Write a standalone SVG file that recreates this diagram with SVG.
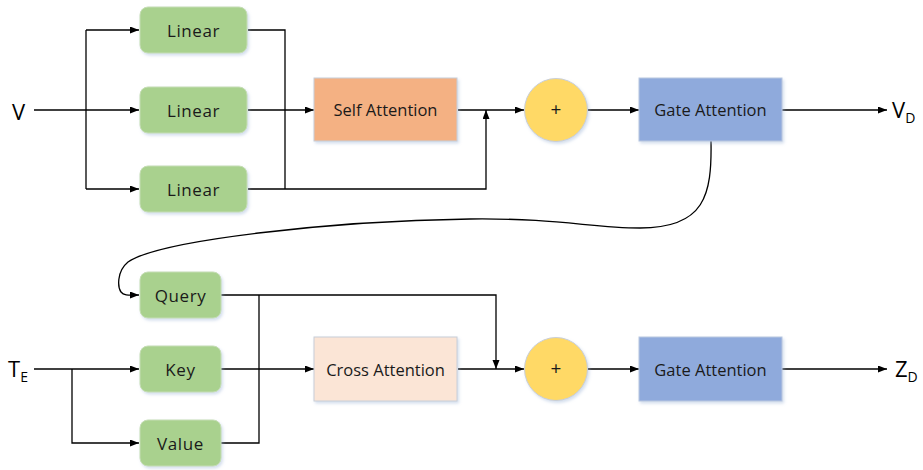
<svg xmlns="http://www.w3.org/2000/svg" width="923" height="470" viewBox="0 0 923 470">
  <defs>
    <marker id="arrow" markerUnits="userSpaceOnUse" markerWidth="10" markerHeight="8" refX="9" refY="3.5" orient="auto">
      <path d="M0,0 L9,3.5 L0,7 z" fill="#000"/>
    </marker>
    <filter id="glow" x="-10%" y="-10%" width="125%" height="130%">
      <feDropShadow dx="1.5" dy="2" stdDeviation="1.8" flood-color="#9FB6D8" flood-opacity="0.45"/>
    </filter>
  </defs>
  <style>
    .lin { fill: #A9D18E; stroke: #C5DDB4; stroke-width: 1; filter: url(#glow); }
    .self { fill: #F4B183; stroke: #C8CED8; stroke-width: 1; filter: url(#glow); }
    .cross { fill: #FBE5D6; stroke: #C8CED8; stroke-width: 1; filter: url(#glow); }
    .gate { fill: #8FAADC; stroke: #B9C7E0; stroke-width: 1; filter: url(#glow); }
    .sum { fill: #FFD966; stroke: #C8CED8; stroke-width: 1; filter: url(#glow); }
    .lbl { font-family: "Open Sans", "Liberation Sans", sans-serif; font-size: 16.5px; fill: #1a1a1a; text-anchor: middle; dominant-baseline: central; }
    .box { font-size: 17px; letter-spacing: 0.6px; }
    .plus { font-size: 19px; }
    .io { font-family: "Open Sans", "Liberation Sans", sans-serif; font-size: 22px; fill: #000; }
    .sub { font-size: 14px; }
    .wire { fill: none; stroke: #000; stroke-width: 1.3; }
    .arr { marker-end: url(#arrow); }
  </style>

  <g id="connectors">
    <path class="wire arr" d="M34,110 H139"/>
    <path class="wire" d="M86,30 V189"/>
    <path class="wire arr" d="M86,30 H139"/>
    <path class="wire arr" d="M86,189 H139"/>
    <path class="wire" d="M248,30 H285 V189"/>
    <path class="wire arr" d="M248,189 H486 V110"/>
    <path class="wire arr" d="M248,110 H314"/>
    <path class="wire arr" d="M458,110 H524"/>
    <path class="wire arr" d="M587,110 H639"/>
    <path class="wire arr" d="M782,110 H887"/>
    <path class="wire arr" d="M711,141 C712,195 705,228 640,228 C590,228 560,218 470,219 C330,221 160,240 128,262 C116,272 118,288 121,292 C124,296 130,295 139,295"/>
    <path class="wire arr" d="M34,369 H139"/>
    <path class="wire arr" d="M72,369 V443 H139"/>
    <path class="wire arr" d="M221,295 H496 V369"/>
    <path class="wire" d="M259,295 V443 H221"/>
    <path class="wire arr" d="M221,369 H314"/>
    <path class="wire arr" d="M458,369 H524"/>
    <path class="wire arr" d="M587,369 H639"/>
    <path class="wire arr" d="M782,369 H887"/>
  </g>

  <g id="input-v">
    <text class="io" x="12" y="120">V</text>
  </g>
  <g id="input-te">
    <text class="io" x="8" y="377">T<tspan class="sub" dy="5">E</tspan></text>
  </g>
  <g id="output-vd">
    <text class="io" x="892" y="118">V<tspan class="sub" dy="5">D</tspan></text>
  </g>
  <g id="output-zd">
    <text class="io" x="895" y="377">Z<tspan class="sub" dy="5">D</tspan></text>
  </g>

  <g id="linear-1">
    <rect class="lin" x="140" y="7" width="107" height="46" rx="8"/>
    <text class="lbl box" x="193.5" y="30">Linear</text>
  </g>
  <g id="linear-2">
    <rect class="lin" x="140" y="87" width="107" height="46" rx="8"/>
    <text class="lbl box" x="193.5" y="110">Linear</text>
  </g>
  <g id="linear-3">
    <rect class="lin" x="140" y="166" width="107" height="46" rx="8"/>
    <text class="lbl box" x="193.5" y="189">Linear</text>
  </g>

  <g id="self-attention">
    <rect class="self" x="314" y="78" width="143" height="63"/>
    <text class="lbl" x="385.5" y="109.5">Self Attention</text>
  </g>
  <g id="sum-1">
    <circle class="sum" cx="556" cy="110" r="31.5"/>
    <text class="lbl plus" x="556" y="109">+</text>
  </g>
  <g id="gate-attention-1">
    <rect class="gate" x="639" y="78" width="143" height="63"/>
    <text class="lbl" x="710.5" y="109.5">Gate Attention</text>
  </g>

  <g id="query">
    <rect class="lin" x="140" y="272" width="81" height="46" rx="8"/>
    <text class="lbl box" x="180.5" y="295">Query</text>
  </g>
  <g id="key">
    <rect class="lin" x="140" y="346" width="81" height="46" rx="8"/>
    <text class="lbl box" x="180.5" y="369">Key</text>
  </g>
  <g id="value">
    <rect class="lin" x="140" y="420" width="81" height="46" rx="8"/>
    <text class="lbl box" x="180.5" y="443">Value</text>
  </g>

  <g id="cross-attention">
    <rect class="cross" x="314" y="337" width="143" height="64"/>
    <text class="lbl" x="385.5" y="369">Cross Attention</text>
  </g>
  <g id="sum-2">
    <circle class="sum" cx="556" cy="369" r="31.5"/>
    <text class="lbl plus" x="556" y="368">+</text>
  </g>
  <g id="gate-attention-2">
    <rect class="gate" x="639" y="337" width="143" height="64"/>
    <text class="lbl" x="710.5" y="369">Gate Attention</text>
  </g>
</svg>
